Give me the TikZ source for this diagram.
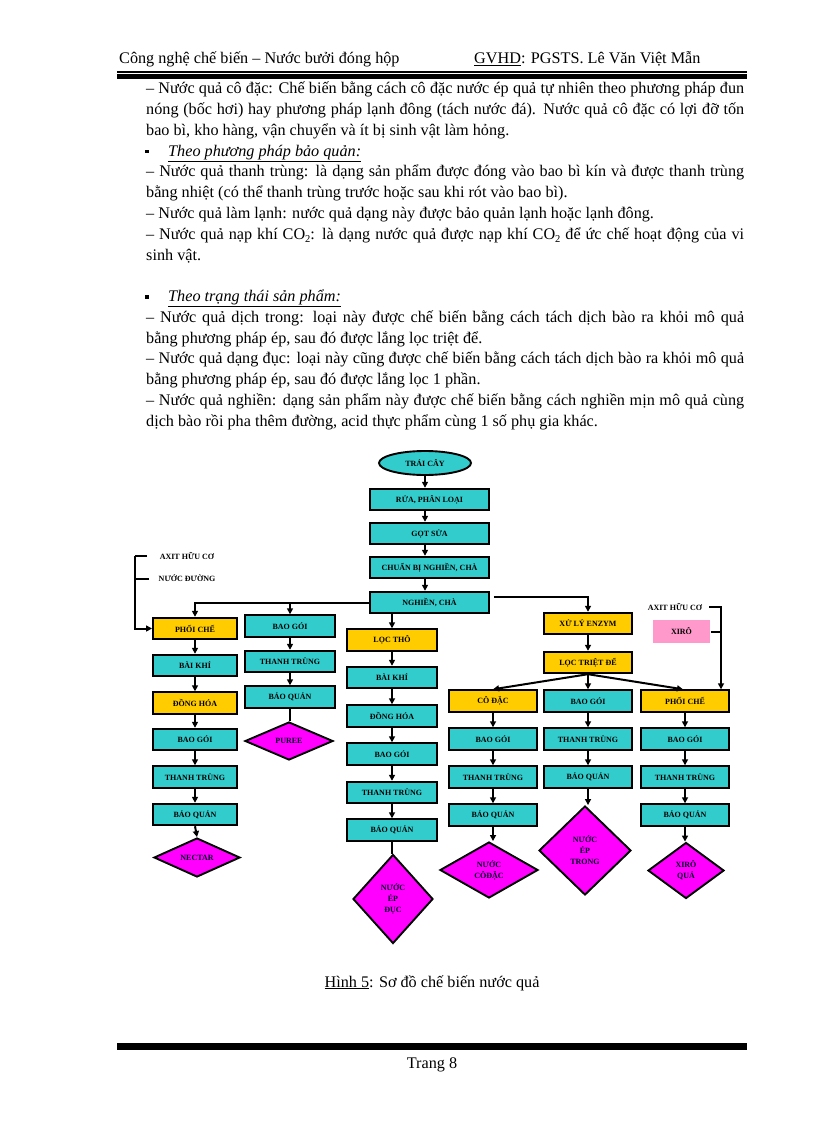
\documentclass[tikz,border=0pt]{standalone}
\usepackage{fontspec}
\setmainfont{Liberation Serif}
\usetikzlibrary{shapes.geometric,arrows.meta,calc}
\definecolor{cy}{HTML}{33CCCC}
\definecolor{yl}{HTML}{FFCC00}
\definecolor{mg}{HTML}{FF00FF}
\definecolor{pk}{HTML}{FF99CC}
\newcommand\bodyfont{\fontsize{16.2}{20.75}\selectfont}
\newcommand\jline[1]{\makebox[598pt][s]{#1}}
\newcommand\subtwo{\raisebox{-3pt}{\fontsize{10.5}{10}\selectfont 2}}
\begin{document}
\begin{tikzpicture}[x=1pt,y=-1pt,
  txt/.style={anchor=base west,inner sep=0pt,font=\bodyfont},
  box/.style={draw=black,line width=1.9pt,minimum height=21.5pt,inner sep=0pt,
    font=\fontsize{8}{9}\selectfont\bfseries,text=black},
  cbox/.style={box,fill=cy},
  ybox/.style={box,fill=yl},
  wA/.style={minimum width=84pt},
  wB/.style={minimum width=90pt},
  wD/.style={minimum width=88pt},
  diam/.style={diamond,draw=black,line width=1.9pt,fill=mg,inner sep=0pt},
  dtext/.style={align=center,font=\fontsize{8}{11}\selectfont\bfseries,text=black!85!blue},
  lbl/.style={inner sep=0pt,font=\fontsize{8}{9}\selectfont\bfseries},
  arr/.style={line width=2pt,-{Triangle[length=6pt,width=6pt]}},
  ln/.style={line width=2pt}]
\useasboundingbox (0,0) rectangle (816,1123);
% header
\node[txt] (h1) at (119,64) {Công nghệ chế biến – Nước bưởi đóng hộp};
\node[txt] (h2) at (474,64) {\underline{GVHD}: PGSTS. Lê Văn Việt Mẫn};
\fill (117,71.5) rectangle (747,72.6);
\fill (117,74.5) rectangle (747,79);
% body
\node[txt] (t1) at (146,94) {\jline{– Nước quả cô đặc: Chế biến bằng cách cô đặc nước ép quả tự nhiên theo phương pháp đun}};
\node[txt] (t2) at (146,114.75) {\jline{nóng (bốc hơi) hay phương pháp lạnh đông (tách nước đá). Nước quả cô đặc có lợi đỡ tốn}};
\node[txt] (t3) at (146,135.5) {bao bì, kho hàng, vận chuyển và ít bị sinh vật làm hỏng.};
\node[fill=black,inner sep=0pt,minimum size=3.5pt] (b1) at (147,151.5) {};
\node[txt] (t4) at (168,156.25) {\itshape\underline{Theo phương pháp bảo quản:}};
\node[txt] (t5) at (146,177) {\jline{– Nước quả thanh trùng: là dạng sản phẩm được đóng vào bao bì kín và được thanh trùng}};
\node[txt] (t6) at (146,197.75) {bằng nhiệt (có thể thanh trùng trước hoặc sau khi rót vào bao bì).};
\node[txt] (t7) at (146,218.5) {– Nước quả làm lạnh: nước quả dạng này được bảo quản lạnh hoặc lạnh đông.};
\node[txt] (t8) at (146,239.25) {\jline{– Nước quả nạp khí CO\subtwo: là dạng nước quả được nạp khí CO\subtwo\ để ức chế hoạt động của vi}};
\node[txt] (t9) at (146,260) {sinh vật.};
\node[fill=black,inner sep=0pt,minimum size=3.5pt] (b2) at (147,297) {};
\node[txt] (t10) at (168,301.5) {\itshape\underline{Theo trạng thái sản phẩm:}};
\node[txt] (t11) at (146,322.25) {\jline{– Nước quả dịch trong: loại này được chế biến bằng cách tách dịch bào ra khỏi mô quả}};
\node[txt] (t12) at (146,343) {bằng phương pháp ép, sau đó được lắng lọc triệt để.};
\node[txt] (t13) at (146,363.75) {\jline{– Nước quả dạng đục: loại này cũng được chế biến bằng cách tách dịch bào ra khỏi mô quả}};
\node[txt] (t14) at (146,384.5) {bằng phương pháp ép, sau đó được lắng lọc 1 phần.};
\node[txt] (t15) at (146,405.25) {\jline{– Nước quả nghiền: dạng sản phẩm này được chế biến bằng cách nghiền mịn mô quả cùng}};
\node[txt] (t16) at (146,426) {dịch bào rồi pha thêm đường, acid thực phẩm cùng 1 số phụ gia khác.};
% flowchart top chain
\node[ellipse,draw=black,line width=1.9pt,fill=cy,inner sep=0pt,minimum width=92pt,minimum height=24pt,
  font=\fontsize{8}{9}\selectfont\bfseries] (tc) at (425,463) {TRÁI CÂY};
\node[cbox,minimum width=119pt] (r1) at (429.5,499.5) {RỬA, PHÂN LOẠI};
\node[cbox,minimum width=119pt] (r2) at (429.5,533.5) {GỌT SỬA};
\node[cbox,minimum width=119pt] (r3) at (429.5,567.5) {CHUẨN BỊ NGHIỀN, CHÀ};
\node[cbox,minimum width=119pt] (ngh) at (429.5,602.5) {NGHIỀN, CHÀ};
\draw[arr] (tc.south) -- (tc.south |- r1.north);
\draw[arr] (r1.south -| tc.south) -- (r2.north -| tc.south);
\draw[arr] (r2.south -| tc.south) -- (r3.north -| tc.south);
\draw[arr] (r3.south -| tc.south) -- (ngh.north -| tc.south);
% column A
\node[ybox,wA] (a1) at (195,628.5) {PHỐI CHẾ};
\node[cbox,wA] (a2) at (195,665.5) {BÀI KHÍ};
\node[ybox,wA] (a3) at (195,703) {ĐỒNG HÓA};
\node[cbox,wA] (a4) at (195,739.5) {BAO GÓI};
\node[cbox,wA] (a5) at (195,777) {THANH TRÙNG};
\node[cbox,wA] (a6) at (195,814.5) {BẢO QUẢN};
\node[diam,minimum width=86pt,minimum height=39pt,label={[dtext]center:NECTAR}] (a7) at (197,857.5) {};
% column B
\node[cbox,wB] (b1x) at (290,626) {BAO GÓI};
\node[cbox,wB] (b2x) at (290,661.5) {THANH TRÙNG};
\node[cbox,wB] (b3x) at (290,697) {BẢO QUẢN};
\node[diam,minimum width=88pt,minimum height=38pt,label={[dtext]center:PUREE}] (b4x) at (289,741) {};
% column C
\node[ybox,wB] (c1) at (392,640) {LỌC THÔ};
\node[cbox,wB] (c2) at (392,677.5) {BÀI KHÍ};
\node[cbox,wB] (c3) at (392,716) {ĐỒNG HÓA};
\node[cbox,wB] (c4) at (392,754) {BAO GÓI};
\node[cbox,wB] (c5) at (392,792.5) {THANH TRÙNG};
\node[cbox,wB] (c6) at (392,830) {BẢO QUẢN};
\node[diam,minimum width=80pt,minimum height=89pt,label={[dtext]center:NƯỚC\\ÉP\\ĐỤC}] (c7) at (393,899) {};
% enzyme branch
\node[ybox,wD] (xl) at (588,623.5) {XỬ LÝ ENZYM};
\node[ybox,wD] (ltd) at (588,662.5) {LỌC TRIỆT ĐỂ};
% column D
\node[ybox,wD] (d1) at (493,701) {CÔ ĐẶC};
\node[cbox,wD] (d2) at (493,739) {BAO GÓI};
\node[cbox,wD] (d3) at (493,777) {THANH TRÙNG};
\node[cbox,wD] (d4) at (493,815) {BẢO QUẢN};
\node[diam,minimum width=98pt,minimum height=56pt,label={[dtext]center:NƯỚC\\CÔĐẶC}] (d5) at (489,870) {};
% column E
\node[cbox,wD] (e1) at (588,701) {BAO GÓI};
\node[cbox,wD] (e2) at (588,739) {THANH TRÙNG};
\node[cbox,wD] (e3) at (588,777) {BẢO QUẢN};
\node[diam,minimum width=92pt,minimum height=89pt,label={[dtext]center:NƯỚC\\ÉP\\TRONG}] (e4) at (585,850.5) {};
% column F
\node[ybox,wD] (f1) at (685,701) {PHỐI CHẾ};
\node[cbox,wD] (f2) at (685,739) {BAO GÓI};
\node[cbox,wD] (f3) at (685,777) {THANH TRÙNG};
\node[cbox,wD] (f4) at (685,815) {BẢO QUẢN};
\node[diam,minimum width=76pt,minimum height=56pt,label={[dtext]center:XIRÔ\\QUẢ}] (f5) at (686,870.5) {};
% additives
\node[lbl] (axL) at (187,556) {AXIT HỮU CƠ};
\node[lbl] (nd) at (187,578.5) {NƯỚC ĐƯỜNG};
\coordinate (brA) at (147,556);
\coordinate (brB) at (149,579);
\coordinate (brX) at (135,556);
\draw[ln] (brA) -- (brX);
\draw[ln] (brB) -- (brB -| brX);
\draw[arr] (brX) |- (a1.west);
\node[lbl] (axR) at (675,607) {AXIT HỮU CƠ};
\node[box,draw=none,fill=pk,minimum width=57pt,minimum height=23pt] (xiro) at (681.5,631.5) {XIRÔ};
\coordinate (axT) at (709,607);
\coordinate (vx) at (721,607);
\draw[arr] (axT) -- (vx) -- (vx |- f1.north);
\draw[ln,black] (xiro.east) -- (xiro.east -| vx);
% branches from NGHIEN, CHA
\draw[arr] (ngh.west) -| (a1.north);
\draw[arr] (ngh.west -| b1x.north) -- (b1x.north);
\draw[arr] (ngh.south -| c1.north) -- (c1.north);
\draw[arr] ([shift={(4,-5.5)}]ngh.east) -| (xl.north);
\draw[arr] (xl.south) -- (ltd.north);
\draw[arr] (ltd.south) -- (d1.north);
\draw[arr] (ltd.south) -- (e1.north);
\draw[arr] (ltd.south) -- ([xshift=-2pt]f1.north);
% column arrows
\foreach \p/\q in {a1/a2,a2/a3,a3/a4,a4/a5,a5/a6,a6/a7,b1x/b2x,b2x/b3x,c1/c2,c2/c3,c3/c4,c4/c5,c5/c6,d1/d2,d2/d3,d3/d4,e1/e2,e2/e3,f1/f2,f2/f3,f3/f4}
  \draw[arr] (\p.south) -- (\q.north);
\draw[arr] (d4.south) -- (d4.south |- d5.north);
\draw[arr] (e3.south) -- (e3.south |- e4.north);
\draw[arr] (f4.south) -- (f4.south |- f5.north);
\draw[ln] (b3x.south) -- (b3x.south |- b4x.north);
\draw[ln] (c6.south) -- (c6.south |- c7.north);
% caption and footer
\node[anchor=base,inner sep=0pt,font=\bodyfont] (cap) at (432,987) {\underline{Hình 5}: Sơ đồ chế biến nước quả};
\fill (117,1043) rectangle (747,1049.5);
\node[anchor=base,inner sep=0pt,font=\bodyfont] (pg) at (432,1068) {Trang 8};
\end{tikzpicture}
\end{document}
